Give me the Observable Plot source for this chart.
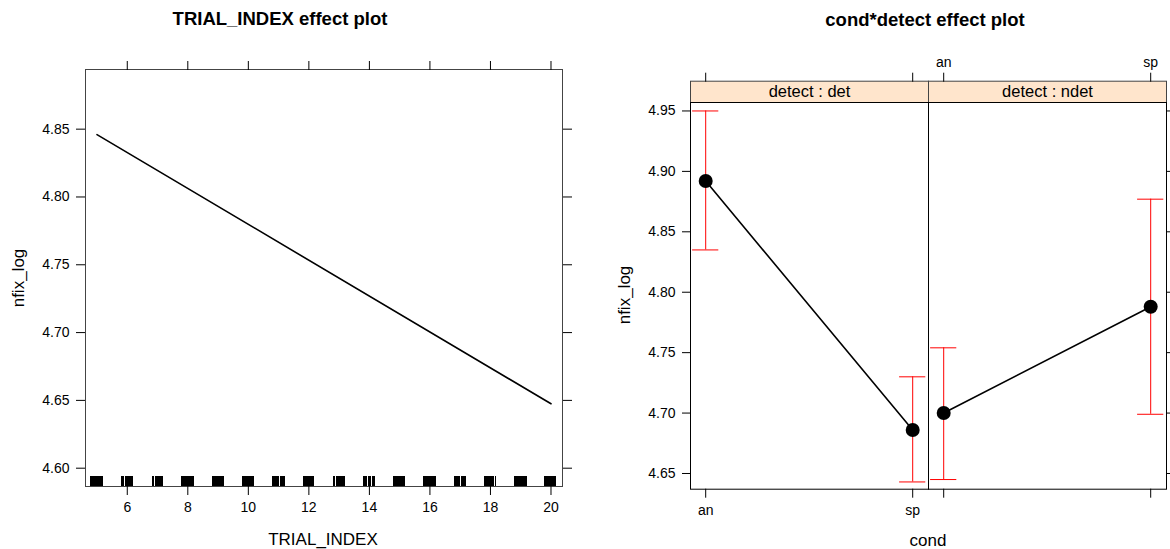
<!DOCTYPE html>
<html><head><meta charset="utf-8">
<script src="https://cdn.jsdelivr.net/npm/d3@7"></script>
<script src="https://cdn.jsdelivr.net/npm/@observablehq/plot@0.6"></script>
<style>
html,body{margin:0;padding:0;background:#fff;}
#wrap{position:relative;width:1170px;height:549px;overflow:hidden;font-family:Arial,"Liberation Sans",sans-serif;color:#000;}
.t{position:absolute;white-space:nowrap;}
.title{font-weight:bold;font-size:18.5px;transform:translate(-50%,-50%);}
.lab{font-size:17px;transform:translate(-50%,-50%);}
.ylab{font-size:17px;transform:translate(-50%,-50%) rotate(-90deg);}
.plot{position:absolute;top:0;}
</style></head>
<body><div id="wrap">
<div class="t title" style="left:280px;top:19px">TRIAL_INDEX effect plot</div>
<div class="t title" style="left:925px;top:20px">cond*detect effect plot</div>
<div class="t lab" style="left:323px;top:540px">TRIAL_INDEX</div>
<div class="t lab" style="left:928px;top:541px">cond</div>
<div class="t ylab" style="left:19px;top:278px">nfix_log</div>
<div class="t ylab" style="left:625px;top:295px">nfix_log</div>
<div id="left" class="plot" style="left:0"></div>
<div id="right" class="plot" style="left:585px"></div>
</div>
<script>
// ---- Left panel: TRIAL_INDEX effect ----
const trialX = [5, 20];
const trialFit = [4.846, 4.6475];
const trialTicks = [6, 8, 10, 12, 14, 16, 18, 20];
const nfixTicksLeft = [4.60, 4.65, 4.70, 4.75, 4.80, 4.85];
const rugTrial = [
  4.80,4.83,4.86,4.88,4.91,4.95,4.97,5.00,5.03,5.06,5.09,5.12,5.15,5.18,
  5.80,5.83,5.85,5.89,5.93,5.96,5.99,6.02,6.05,6.08,6.12,6.15,6.18,
  6.82,6.85,6.88,6.93,6.96,7.00,7.04,7.07,7.11,7.14,7.17,
  7.79,7.82,7.86,7.89,7.92,7.96,7.99,8.03,8.06,8.10,8.13,8.16,8.19,
  8.81,8.84,8.87,8.90,8.93,8.96,8.99,9.02,9.05,9.08,9.11,9.14,9.17,
  9.80,9.83,9.87,9.90,9.94,9.97,10.01,10.04,10.07,10.11,10.14,10.18,
  10.80,10.83,10.86,10.89,10.92,10.95,10.98,11.01,11.05,11.08,11.12,11.15,11.19,
  11.81,11.84,11.87,11.90,11.93,11.96,12.00,12.03,12.06,12.09,12.12,12.16,
  12.80,12.83,12.86,12.90,12.93,12.96,12.99,13.02,13.06,13.09,13.12,13.15,13.18,
  13.80,13.83,13.86,13.89,13.92,13.96,13.99,14.02,14.05,14.09,14.12,14.15,14.18,
  14.80,14.83,14.87,14.91,14.94,14.97,15.00,15.04,15.07,15.10,15.14,15.17,
  15.80,15.83,15.86,15.89,15.92,15.96,15.99,16.02,16.05,16.08,16.12,16.15,16.18,
  16.81,16.84,16.87,16.90,16.93,16.96,16.99,17.03,17.06,17.09,17.12,17.15,17.19,
  17.80,17.83,17.86,17.89,17.93,17.96,17.99,18.02,18.05,18.08,18.11,18.15,18.18,
  18.81,18.84,18.87,18.90,18.93,18.96,19.00,19.03,19.06,19.09,19.12,19.15,19.18,
  19.80,19.83,19.86,19.89,19.92,19.95,19.99,20.02,20.05,20.09,20.12,20.16
];

// ---- Right panel: cond*detect effect ----
const condLevels = ["an", "sp"];
const detectLevels = ["det", "ndet"];
const fitDet = [4.892, 4.686];
const lowerDet = [4.835, 4.643];
const upperDet = [4.950, 4.730];
const fitNdet = [4.700, 4.788];
const lowerNdet = [4.645, 4.699];
const upperNdet = [4.754, 4.877];
const nfixTicksRight = [4.65, 4.70, 4.75, 4.80, 4.85, 4.90, 4.95];

const FONT = 'Arial, "Liberation Sans", sans-serif';

const trialLine = trialX.map((x, i) => ({x, y: trialFit[i]}));

const effects = [];
condLevels.forEach((c, i) => effects.push({detect: "det", cond: c, fit: fitDet[i], lower: lowerDet[i], upper: upperDet[i]}));
condLevels.forEach((c, i) => effects.push({detect: "ndet", cond: c, fit: fitNdet[i], lower: lowerNdet[i], upper: upperNdet[i]}));

const blank = () => "";

const leftPlot = Plot.plot({
  width: 585, height: 549,
  marginLeft: 85, marginRight: 23, marginTop: 69, marginBottom: 63,
  style: {fontFamily: FONT, fontSize: "14px", background: "transparent", overflow: "visible", color: "#000"},
  x: {domain: [4.62, 20.38]},
  y: {domain: [4.5865, 4.894]},
  marks: [
    Plot.ruleX(rugTrial, {stroke: "black", strokeWidth: 1, insetTop: 407, shapeRendering: "crispEdges"}),
    Plot.line(trialLine, {x: "x", y: "y", stroke: "black", strokeWidth: 1.6}),
    Plot.frame({stroke: "#444"}),
    Plot.axisX({anchor: "bottom", ticks: trialTicks, tickSize: 9, tickPadding: 7, label: null}),
    Plot.axisX({anchor: "top", ticks: trialTicks, tickSize: 9, tickFormat: blank, label: null}),
    Plot.axisY({anchor: "left", ticks: nfixTicksLeft, tickSize: 9, tickPadding: 7, tickFormat: ".2f", label: null}),
    Plot.axisY({anchor: "right", ticks: nfixTicksLeft, tickSize: 9, tickFormat: blank, label: null})
  ]
});
document.getElementById("left").appendChild(leftPlot);

const rightPlot = Plot.plot({
  width: 585, height: 549,
  marginLeft: 104.3, marginRight: 3, marginTop: 80.7, marginBottom: 60.3,
  style: {fontFamily: FONT, fontSize: "14px", background: "transparent", overflow: "visible", color: "#000"},
  fx: {domain: detectLevels, padding: 0, axis: null},
  x: {domain: condLevels, type: "band", paddingInner: 0.852, paddingOuter: 0},
  y: {domain: [4.637, 4.957], insetTop: 21.3},
  marks: [
    Plot.frame({fill: "#ffe5cc", stroke: "#444", insetBottom: 386.7}),
    Plot.frame({stroke: "black", insetTop: 21.3}),
    Plot.text(detectLevels, {fx: d => d, text: d => `detect : ${d}`, frameAnchor: "top", dy: 10.65, lineAnchor: "middle", fontSize: 16.5}),
    Plot.ruleX(effects, {fx: "detect", x: "cond", y1: "lower", y2: "upper", stroke: "red", strokeWidth: 1}),
    Plot.tickY(effects, {fx: "detect", x: "cond", y: "lower", stroke: "red", inset: 2.4}),
    Plot.tickY(effects, {fx: "detect", x: "cond", y: "upper", stroke: "red", inset: 2.4}),
    Plot.line(effects, {fx: "detect", x: "cond", y: "fit", stroke: "black", strokeWidth: 1.6}),
    Plot.dot(effects, {fx: "detect", x: "cond", y: "fit", r: 7, fill: "black"}),
    Plot.axisY({anchor: "left", ticks: nfixTicksRight, tickSize: 8, tickPadding: 7, tickFormat: ".2f", label: null}),
    Plot.axisY({anchor: "right", ticks: nfixTicksRight, tickSize: 8, tickFormat: blank, label: null}),
    Plot.axisX({anchor: "bottom", facetAnchor: "left", tickSize: 9, tickPadding: 7, label: null}),
    Plot.axisX({anchor: "bottom", facetAnchor: "right", tickSize: 9, tickFormat: blank, label: null}),
    Plot.axisX({anchor: "top", facetAnchor: "right", tickSize: 9, tickPadding: 5, label: null}),
    Plot.axisX({anchor: "top", facetAnchor: "left", tickSize: 9, tickFormat: blank, label: null})
  ]
});
document.getElementById("right").appendChild(rightPlot);
</script>
</body></html>
